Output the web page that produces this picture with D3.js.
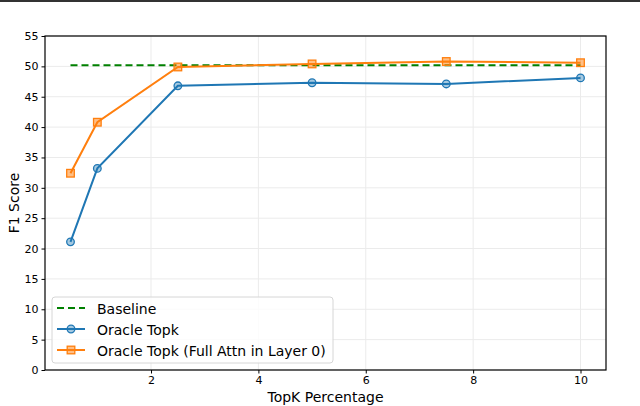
<!DOCTYPE html>
<html>
<head>
<meta charset="utf-8">
<script src="https://cdn.jsdelivr.net/npm/d3@7"></script>
<style>
  body { margin: 0; background: #fff; }
  svg { display: block; font-family: 'DejaVu Sans', sans-serif; }
</style>
</head>
<body>
<svg width="640" height="406"></svg>
<script>
const topk = [0.5, 1, 2.5, 5, 7.5, 10]
const baseline = [50.2, 50.2, 50.2, 50.2, 50.2, 50.2]
const oracle = [21.1, 33.2, 46.8, 47.3, 47.1, 48.1]
const oracleFull = [32.4, 40.8, 49.9, 50.4, 50.8, 50.6]
const xTicks = [2, 4, 6, 8, 10]
const yTicks = [0, 5, 10, 15, 20, 25, 30, 35, 40, 45, 50, 55]

const svg = d3.select('svg')
const width = +svg.attr('width')
const height = +svg.attr('height')
const margin = {left: 45, right: 34, top: 36, bottom: 36}
const innerWidth = width - margin.left - margin.right
const innerHeight = height - margin.top - margin.bottom

// thin frame line at the top of the picture
svg.append('rect').attr('x', 0).attr('y', 0).attr('width', width).attr('height', 2).attr('fill', '#333')

const xScale = d3.scaleLinear().domain([0.025, 10.475]).range([0, innerWidth])
const yScale = d3.scaleLinear().domain([0, 55]).range([innerHeight, 0])

const g = svg.append('g').attr('transform', `translate(${margin.left}, ${margin.top})`)

// grid
g.append('g').selectAll('line').data(xTicks).enter().append('line')
  .attr('x1', d => xScale(d)).attr('x2', d => xScale(d))
  .attr('y1', 0).attr('y2', innerHeight)
  .attr('stroke', '#ebebeb').attr('stroke-width', 1)
g.append('g').selectAll('line').data(yTicks).enter().append('line')
  .attr('x1', 0).attr('x2', innerWidth)
  .attr('y1', d => yScale(d)).attr('y2', d => yScale(d))
  .attr('stroke', '#ebebeb').attr('stroke-width', 1)

const series = [
  {name: 'Baseline', values: baseline, color: '#008000', dash: '7,4', marker: null},
  {name: 'Oracle Topk', values: oracle, color: '#1f77b4', dash: null, marker: 'circle'},
  {name: 'Oracle Topk (Full Attn in Layer 0)', values: oracleFull, color: '#ff7f0e', dash: null, marker: 'square'}
]

const line = d3.line().x(d => xScale(d[0])).y(d => yScale(d[1]))

const drawMarker = (sel, marker, color) => {
  if (marker === 'circle') {
    sel.append('circle').attr('r', 3.8)
      .attr('fill', color).attr('fill-opacity', 0.4)
      .attr('stroke', color).attr('stroke-width', 1.3)
  } else if (marker === 'square') {
    sel.append('rect').attr('x', -3.8).attr('y', -3.8).attr('width', 7.6).attr('height', 7.6)
      .attr('fill', color).attr('fill-opacity', 0.5)
      .attr('stroke', color).attr('stroke-width', 1.3)
  }
}

series.forEach(s => {
  const pts = topk.map((x, i) => [x, s.values[i]])
  g.append('path').datum(pts)
    .attr('d', line)
    .attr('fill', 'none')
    .attr('stroke', s.color)
    .attr('stroke-width', 2)
    .attr('stroke-dasharray', s.dash)
  if (s.marker) {
    g.append('g').selectAll('g').data(pts).enter().append('g')
      .attr('transform', d => `translate(${xScale(d[0])}, ${yScale(d[1])})`)
      .each(function () { drawMarker(d3.select(this), s.marker, s.color) })
  }
})

// axes
const xAxis = g.append('g').attr('transform', `translate(0, ${innerHeight})`)
  .call(d3.axisBottom(xScale).tickValues(xTicks).tickSize(3.5).tickPadding(3).tickFormat(d3.format('d')))
const yAxis = g.append('g')
  .call(d3.axisLeft(yScale).tickValues(yTicks).tickSize(3.5).tickPadding(3))
;[xAxis, yAxis].forEach(a => {
  a.select('.domain').remove()
  a.selectAll('text').attr('font-size', 11).attr('font-family', 'DejaVu Sans').attr('fill', '#000')
  a.selectAll('line').attr('stroke', '#000')
})

g.append('rect').attr('width', innerWidth).attr('height', innerHeight)
  .attr('fill', 'none').attr('stroke', '#000').attr('stroke-width', 1.2)

// labels
svg.append('text').attr('x', margin.left + innerWidth / 2).attr('y', 402)
  .attr('text-anchor', 'middle').attr('font-size', 14).text('TopK Percentage')
svg.append('text').attr('transform', `translate(19, ${margin.top + innerHeight / 2}) rotate(-90)`)
  .attr('text-anchor', 'middle').attr('font-size', 14).text('F1 Score')

// legend
const lg = svg.append('g').attr('transform', 'translate(52, 297)')
lg.append('rect').attr('width', 281).attr('height', 66).attr('rx', 3)
  .attr('fill', '#fff').attr('fill-opacity', 0.8).attr('stroke', '#d6d6d6')
series.forEach((s, i) => {
  const row = lg.append('g').attr('transform', `translate(0, ${11 + i * 21})`)
  row.append('line').attr('x1', 5).attr('x2', 33).attr('y1', 0).attr('y2', 0)
    .attr('stroke', s.color).attr('stroke-width', 2).attr('stroke-dasharray', s.dash)
  if (s.marker) drawMarker(row.append('g').attr('transform', 'translate(19, 0)'), s.marker, s.color)
  row.append('text').attr('x', 45).attr('y', 5.5).attr('font-size', 14).text(s.name)
})
</script>
</body>
</html>
